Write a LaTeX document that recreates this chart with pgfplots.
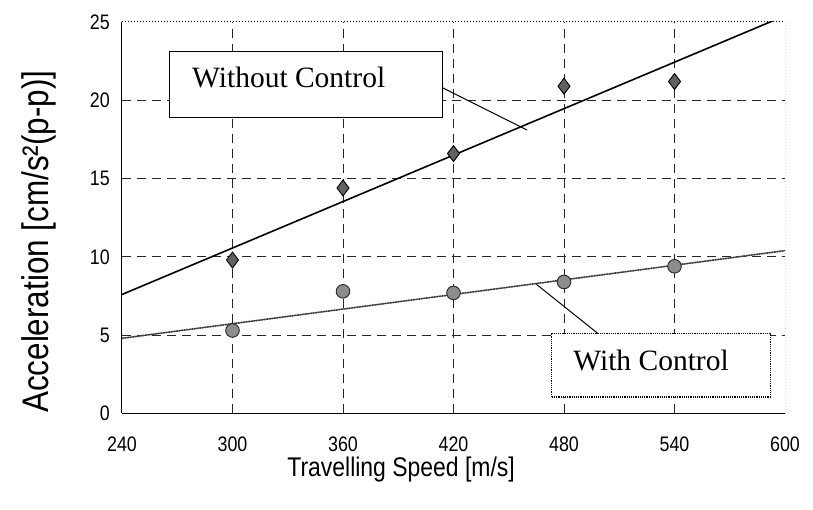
\documentclass[border=0pt]{standalone}
\usepackage{fontspec}
\setmainfont{Liberation Serif}
\newfontfamily\condsans[FakeStretch=0.85]{Liberation Sans}
\usepackage{pgfplots}
\pgfplotsset{compat=1.18}
\begin{document}
\begin{tikzpicture}
\begin{axis}[
  at={(0pt,0pt)}, anchor=south west,
  scale only axis, width=663pt, height=391.5pt,
  xmin=240, xmax=600, ymin=0, ymax=25,
  xtick={300,360,420,480,540}, ytick={5,10,15,20},
  extra x ticks={240,600}, extra y ticks={0,25},
  extra x tick style={grid=none}, extra y tick style={grid=none},
  major tick length=0pt,
  grid=major,
  major grid style={black!85, line width=0.8pt, dash pattern=on 9pt off 6pt},
  axis x line*=bottom, axis y line*=left,
  axis line style={black, line width=1pt, -},
  /pgf/number format/assume math mode=true,
  tick label style={font=\condsans\fontsize{21}{21}\selectfont},
  xticklabel style={anchor=center, yshift=-31pt},
  yticklabel style={anchor=east, inner sep=0pt, xshift=-12pt},
  xlabel={Travelling Speed [m/s]},
  ylabel={Acceleration [cm/s²(p-p)]},
  xlabel style={font=\condsans\fontsize{27}{27}\selectfont, at={(axis description cs:0.421,-0.162)}, anchor=base},
  ylabel style={font=\condsans\fontsize{37}{37}\selectfont, at={(axis description cs:-0.1116,0.439)}, rotate=0, anchor=base},
  clip=true,
]
% dotted top and right frame
\draw[black, line width=1pt, dotted] (rel axis cs:0,1) -- (rel axis cs:1,1) -- (rel axis cs:1,0);
% regression lines
\addplot[black, line width=1.6pt] coordinates {(240,7.6) (600,25.4)};
\addplot[black!75, line width=1.6pt, densely dotted] coordinates {(240,4.8) (600,10.4)};
\addplot[black!75, line width=1.0pt] coordinates {(240,4.8) (600,10.4)};
% measured points
\addplot[only marks, mark=diamond*, mark size=8pt, mark options={fill=black!62, draw=black, line width=0.9pt}]
  coordinates {(300,9.8) (360,14.4) (420,16.6) (480,20.9) (540,21.2)};
\addplot[only marks, mark=*, mark size=6.8pt, mark options={fill=black!45, draw=black!85, line width=0.9pt}]
  coordinates {(300,5.3) (360,7.8) (420,7.7) (480,8.4) (540,9.4)};
% annotations
\draw[black, line width=1.2pt, fill=white] (axis cs:266,18.9) rectangle (axis cs:414,23.1);
\node[anchor=base west, inner sep=0pt, font=\fontsize{29.5}{30}\selectfont] at (axis cs:278,20.8) {Without Control};
\draw[black, line width=1pt] (axis cs:414,20.8) -- (axis cs:460,18.1);
\draw[black, line width=1.2pt, densely dotted, fill=white] (axis cs:473,1.05) rectangle (axis cs:592,5.1);
\node[anchor=base west, inner sep=0pt, font=\fontsize{29.5}{30}\selectfont] at (axis cs:485,2.76) {With Control};
\draw[black, line width=1pt] (axis cs:465,8.25) -- (axis cs:498.5,5.1);
\end{axis}
\pgfresetboundingbox
\path[use as bounding box] (-122pt,-96.5pt) rectangle (691pt,413.5pt);
\end{tikzpicture}
\end{document}
